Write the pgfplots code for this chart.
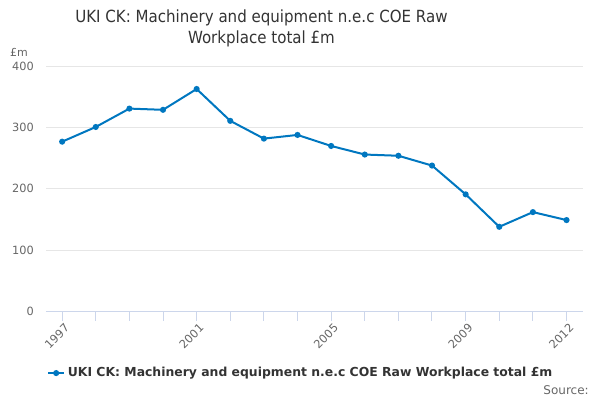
\documentclass[border=0pt]{standalone}
\usepackage{pgfplots}
\pgfplotsset{compat=1.18}
\usepackage{fontspec}
\setmainfont{DejaVu Sans}
\newfontfamily\condfont{DejaVu Sans Condensed}
\definecolor{lineblue}{RGB}{0,119,192}
\definecolor{gridc}{RGB}{230,230,230}
\definecolor{axisc}{RGB}{204,214,235}
\definecolor{txtgrey}{RGB}{102,102,102}
\definecolor{titlec}{RGB}{51,51,51}
\begin{document}
\begin{tikzpicture}
\path[use as bounding box] (-34.5pt,-66.5pt) rectangle (415.5pt,233.5pt);
\begin{axis}[
  at={(0,0)}, anchor=south west,
  scale only axis, width=402.75pt, height=183.75pt,
  xmin=1996.52, xmax=2012.49,
  ymin=0, ymax=400,
  ytick={0,100,200,300,400},
  xtick={1997,2001,2005,2009,2012},
  minor xtick={1997,...,2012},
  /pgf/number format/assume math mode=true,
  /pgf/number format/1000 sep={},
  ymajorgrids, grid style={gridc, line width=0.75pt},
  axis x line*=bottom, axis y line*=left,
  x axis line style={axisc, line width=0.75pt, -},
  y axis line style={draw=none},
  xtick align=outside, xtick pos=bottom,
  x tick style={axisc, line width=0.75pt},
  major tick length=7pt, minor tick length=7pt,
  y tick style={draw=none},
  tick label style={font=\fontsize{8.5pt}{10pt}\selectfont, text=txtgrey},
  xticklabel style={rotate=45, anchor=north east, inner sep=0pt, xshift=0pt, yshift=-2pt},
  yticklabel style={anchor=east, inner sep=0pt, xshift=-9pt},
  legend style={at={(0.475,-0.252)}, anchor=center, draw=none, fill=none,
    font=\bfseries\fontsize{9.3pt}{11pt}\selectfont, text=titlec},
  legend cell align=left,
  legend image code/.code={\draw[lineblue, line width=1.5pt] (0pt,0pt) -- (12pt,0pt);
    \fill[lineblue] (6pt,0pt) circle (1.5pt);},
]
\addplot[lineblue, line width=1.5pt, mark=*, mark size=1.5pt, mark options={fill=lineblue, draw=lineblue}]
coordinates {
(1997,277) (1998,301) (1999,331) (2000,329) (2001,363) (2002,311) (2003,282) (2004,288)
(2005,270) (2006,256) (2007,254) (2008,238) (2009,191) (2010,138) (2011,162) (2012,149)
};
\addlegendentry{UKI CK: Machinery and equipment n.e.c COE Raw Workplace total £m}
\end{axis}
\node[text=titlec, font=\condfont\fontsize{12.55pt}{16pt}\selectfont] at (161.6pt,220pt) {UKI CK: Machinery and equipment n.e.c COE Raw};
\node[text=titlec, font=\condfont\fontsize{12.55pt}{16pt}\selectfont] at (161.6pt,204.2pt) {Workplace total £m};
\node[text=txtgrey, font=\fontsize{8.25pt}{10pt}\selectfont] at (-20.25pt,194.5pt) {£m};
\node[text=txtgrey, font=\fontsize{9pt}{11pt}\selectfont, anchor=east, inner sep=0pt] at (407.25pt,-59pt) {Source:};
\end{tikzpicture}
\end{document}
